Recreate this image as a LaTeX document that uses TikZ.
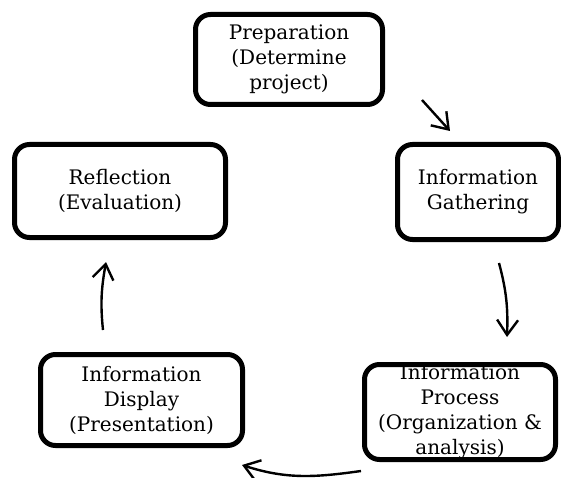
\documentclass[tikz,border=0pt]{standalone}
\usepackage{fontspec}
\setmainfont{DejaVu Serif}
\usetikzlibrary{arrows.meta}

\begin{document}
\begin{tikzpicture}[x=1pt, y=1pt,
	stage/.style={draw, line width=5pt, rounded corners=15pt, align=center,
		font=\fontsize{20}{25}\selectfont},
	flow/.style={line width=2.4pt, -{Straight Barb[length=15pt, width=21pt]}}]

	% fix the frame of the picture
	\useasboundingbox (0,0) rectangle (561,477);

	% the five stages of the cycle
	\node[stage, minimum width=187, minimum height=90] (prep) at (289,417.5) {Preparation\\(Determine\\project)};
	\node[stage, minimum width=161, minimum height=95] (gather) at (478,285) {Information\\Gathering};
	\node[stage, minimum width=191, minimum height=95, inner ysep=0pt] (proc) at (460,65) {Information\\Process\\(Organization \&\\analysis)};
	\node[stage, minimum width=202, minimum height=91] (disp) at (141.5,77) {Information\\Display\\(Presentation)};
	\node[stage, minimum width=211, minimum height=93] (refl) at (120,286) {Reflection\\(Evaluation)};

	% free ends of the arrows, kept apart from the boxes
	\coordinate (a1) at (422,377);	\coordinate (b1) at (450,346);
	\coordinate (a2) at (499,214);	\coordinate (b2) at (507,140);
	\coordinate (a3) at (361,6);	\coordinate (b3) at (242,12);
	\coordinate (a4) at (103,147);	\coordinate (b4) at (106,215);

	% arrows round the cycle
	\draw[flow] (a1) -- (b1);
	\draw[flow] (a2) to[out=-75, in=88] (b2);
	\draw[flow] (a3) to[out=188, in=-18] (b3);
	\draw[flow] (a4) to[out=96, in=-100] (b4);

\end{tikzpicture}
\end{document}
